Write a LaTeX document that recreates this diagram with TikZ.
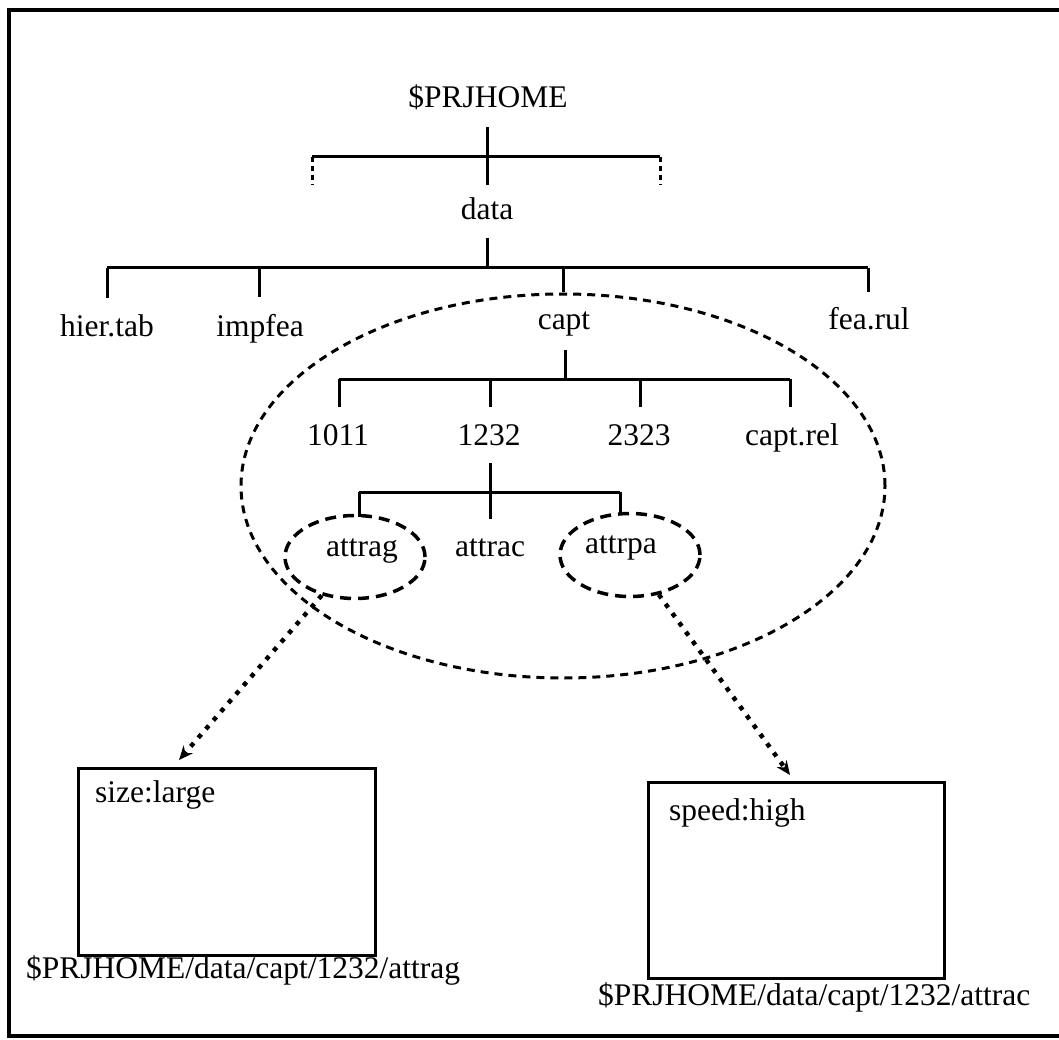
\documentclass[tikz,border=0pt]{standalone}
\usepackage{fontspec}
\setmainfont{Liberation Serif}
\usetikzlibrary{shapes.geometric,arrows.meta}
\tikzset{
  lbl/.style={font=\fontsize{31.5}{36}\selectfont, inner sep=0pt, anchor=base},
  lblw/.style={font=\fontsize{31.5}{36}\selectfont, inner sep=0pt, anchor=base west},
  tree/.style={line width=3pt},
  dotstub/.style={line width=3pt, dash pattern=on 5pt off 4pt},
  frame/.style={line width=3.5pt},
  bigring/.style={ellipse, draw, line width=3pt, dash pattern=on 8pt off 6pt,
    minimum width=644pt, minimum height=384pt, inner sep=0pt},
  ring/.style={ellipse, draw, line width=3.5pt, dash pattern=on 11pt off 7pt,
    minimum width=140pt, minimum height=83pt, inner sep=0pt},
  dotarrow/.style={line width=4.5pt, dash pattern=on 4.5pt off 7pt,
    -{Stealth[length=14pt,width=12pt,open,line width=2.5pt]}},
  filebox/.style={draw, line width=3pt, inner sep=0pt}
}
\begin{document}
\begin{tikzpicture}[x=1pt,y=-1pt]
\useasboundingbox (0,0) rectangle (1059,1040);
% frame (open on the right)
\draw[frame] (1065,10) -- (9,10) -- (9,1036) -- (1065,1036);

% level 0
\node[lbl] (prj) at (488,108) {\$PRJHOME};
\coordinate (p0) at (487,127);
\coordinate (p1) at (487,185);
\coordinate (pl) at (312,157);
\coordinate (pr) at (660,157);
\draw[tree] (p0) -- (p1);
\draw[tree] (pl) -- (pr);
\draw[dotstub] (pl) -- ++(0,28);
\draw[dotstub] (pr) -- ++(0,28);

% level 1
\node[lbl] (data) at (487,220) {data};
\coordinate (d0) at (487,238);
\coordinate (dj) at (487,268);
\coordinate (dl) at (107,268);
\coordinate (dr) at (868,268);
\draw[tree] (d0) -- (dj);
\draw[tree] (dl) -- (dr);

\node[lbl] (hier) at (107,336) {hier.tab};
\node[lbl] (impfea) at (260,336) {impfea};
\node[lbl] (capt) at (564,330) {capt};
\node[lbl] (fearul) at (869,330) {fea.rul};

\node[bigring] (capring) at (563,486) {};

\draw[tree] (dl) -- (107,298);
\draw[tree] (259,268) -- (259,297);
\draw[tree] (563,268) -- (capring.north);
\draw[tree] (dr) -- (868,292);

% level 2
\coordinate (c0) at (565,350);
\coordinate (cj) at (565,379);
\coordinate (cl) at (339,379);
\coordinate (cr) at (790,379);
\draw[tree] (c0) -- (cj);
\draw[tree] (cl) -- (cr);
\draw[tree] (cl) -- (339,407);
\draw[tree] (490,379) -- (490,407);
\draw[tree] (640,379) -- (640,407);
\draw[tree] (cr) -- (790,407);

\node[lbl] (n1011) at (338,445) {1011};
\node[lbl] (n1232) at (489,445) {1232};
\node[lbl] (n2323) at (639,445) {2323};
\node[lbl] (captrel) at (792,445) {capt.rel};

% level 3
\node[ring] (ringG) at (355,557) {};
\node[ring] (ringP) at (630,555) {};

\coordinate (a0) at (490,463);
\coordinate (aj) at (490,519);
\coordinate (al) at (359,492);
\coordinate (ar) at (620,492);
\draw[tree] (a0) -- (aj);
\draw[tree] (al) -- (ar);
\draw[tree] (al) -- (359,517);
\draw[tree] (ar) -- (620,515);

\node[lbl] (attrag) at (362,556) {attrag};
\node[lbl] (attrac) at (490,556) {attrac};
\node[lbl] (attrpa) at (621,553) {attrpa};

% boxes
\node[filebox, minimum width=297pt, minimum height=187pt] (boxL) at (226.5,861.5) {};
\node[filebox, minimum width=296pt, minimum height=196pt] (boxR) at (796,880) {};
\node[lblw] (sizel) at (95,802) {size:large};
\node[lblw] (speedh) at (669,820) {speed:high};
\node[lblw] (pathL) at (26,978) {\$PRJHOME/data/capt/1232/attrag};
\node[lblw] (pathR) at (598,1005) {\$PRJHOME/data/capt/1232/attrac};

% arrows
\coordinate (tipL) at (179,760);
\coordinate (tipR) at (790,775);
\draw[dotarrow] (ringG) -- (tipL);
\draw[dotarrow] (ringP) -- (tipR);
\end{tikzpicture}
\end{document}
